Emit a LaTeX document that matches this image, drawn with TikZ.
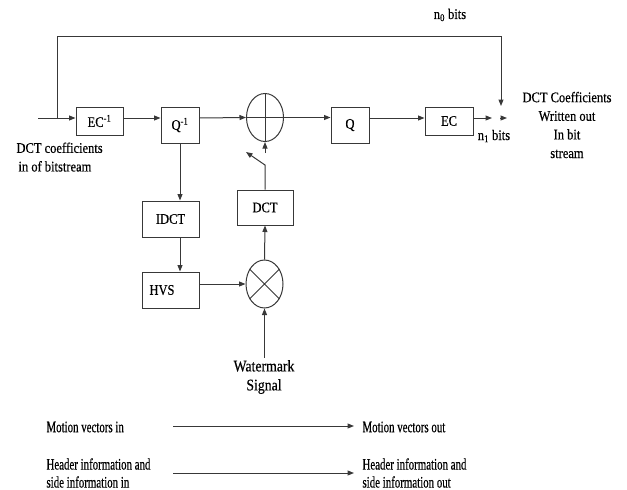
\documentclass[tikz,border=0pt]{standalone}
\usepackage{fontspec}
\setmainfont[FakeStretch=0.85,FakeBold=0.4]{Liberation Serif}
\newfontfamily\narrowfont[FakeStretch=0.68,FakeBold=0.4]{Liberation Serif}
\usepackage{tikz}
\usetikzlibrary{arrows.meta,positioning,calc,shapes.geometric}

\begin{document}
\begin{tikzpicture}[x=1pt,y=-1pt,
    line width=1pt, draw=black!78,
    every node/.style={font=\fontsize{14.7}{18.6}\selectfont},
    blk/.style={draw=black!78,line width=1pt,inner sep=0pt},
    junc/.style={draw=black!78,line width=1pt,ellipse,inner sep=0pt,
      minimum width=37,minimum height=48},
    arr/.style={-{Triangle[length=6.5pt,width=5pt]}},
    small/.style={font=\narrowfont\fontsize{16}{18}\selectfont}]
    \useasboundingbox (0,0) rectangle (627,490);

    % Bloques de la cadena principal.
    \node[blk,minimum width=47,minimum height=28] (ecinv) at (99.5,121) {EC\textsuperscript{-1}};
    \node[blk,minimum width=38,minimum height=36] (qinv) at (180,125) {Q\textsuperscript{-1}};
    \node[junc] (sum) at (265,117.5) {};
    \node[blk,minimum width=38,minimum height=36] (q) at (350,125) {Q};
    \node[blk,minimum width=48,minimum height=28] (ec) at (449,121) {EC};

    % Rama de la marca de agua.
    \node[blk,minimum width=57,minimum height=36] (idct) at (170.5,219) {IDCT};
    \node[blk,minimum width=57,minimum height=36,text width=42,align=left] (hvs) at (170.5,290) {HVS};
    \node[blk,minimum width=56,minimum height=35] (dct) at (265,207.5) {DCT};
    \node[junc] (mul) at (264.5,284) {};
    \node[align=center,inner sep=2pt,font=\fontsize{16.2}{19}\selectfont] (wm) at (264,377) {Watermark\\Signal};

    % Signos dentro de los sumadores.
    \draw (sum.north) -- (sum.south) (sum.west) -- (sum.east);
    \draw (mul.45) -- (mul.225) (mul.135) -- (mul.315);

    % Puntos libres.
    \coordinate (in) at (38,118);
    \coordinate (tap) at (57,118);
    \coordinate (topright) at (501,36);
    \coordinate (down) at (501,106);
    \coordinate (ecout) at (492,118);
    \coordinate (merge) at (500,118);
    \coordinate (outtip) at (507,118);
    \coordinate (swpivot) at (265,165);
    \coordinate (swtip) at (246,152);
    \coordinate (swout) at (265,153);

    % Conexiones principales.
    \draw[arr] (in) -- (in -| ecinv.west);
    \draw[arr] (ecinv.east |- in) -- (qinv.west |- in);
    \draw[arr] (qinv.east |- in) -- (sum.west);
    \draw[arr] (sum.east) -- (q.west |- sum.east);
    \draw[arr] (q.east |- in) -- (ec.west |- in);
    \draw[arr] (ec.east |- in) -- (ecout);
    \draw[arr] (merge) -- (outtip);
    \draw[arr] (tap) |- (topright) -- (down);

    % Conexiones de la rama inferior.
    \draw[arr] (qinv.south) -- (qinv.south |- idct.north);
    \draw[arr] (qinv.south |- idct.south) -- (qinv.south |- hvs.north);
    \draw[arr] (hvs.east |- mul) -- (mul.west);
    \draw[arr] (mul.north) -- (dct.south);
    \draw[arr] (wm.north -| mul) -- (mul.south);
    \draw[arr] (dct.north) -- (swpivot) -- (swtip);
    \draw[arr] (swout) -- (sum.south);

    % Textos.
    \node (nzero) at (450,15) {n\textsubscript{0} bits};
    \node (none) at (494,136) {n\textsubscript{1} bits};
    \node[align=left,anchor=north west,inner sep=0pt] (dctin) at (16,142)
      {DCT coefficients\\\hspace{2pt}in of bitstream};
    \node[align=center] (dctout) at (567,125)
      {DCT Coefficients\\Written out\\In bit\\stream};

    % Vectores de movimiento y cabeceras.
    \node[small,anchor=west,inner sep=0pt] (mvin) at (46,427) {Motion vectors in};
    \node[small,anchor=west,inner sep=0pt] (mvout) at (362,427) {Motion vectors out};
    \coordinate (mvsrc) at (173,426);
    \coordinate (mvdst) at (354,426);
    \draw[arr] (mvsrc) -- (mvdst);
    \node[small,anchor=west,align=left,inner sep=0pt] (hdin) at (46,473)
      {Header information and\\side information in};
    \node[small,anchor=west,align=left,inner sep=0pt] (hdout) at (362,473)
      {Header information and\\side information out};
    \coordinate (hdsrc) at (173,473);
    \coordinate (hddst) at (354,473);
    \draw[arr] (hdsrc) -- (hddst);
\end{tikzpicture}
\end{document}
